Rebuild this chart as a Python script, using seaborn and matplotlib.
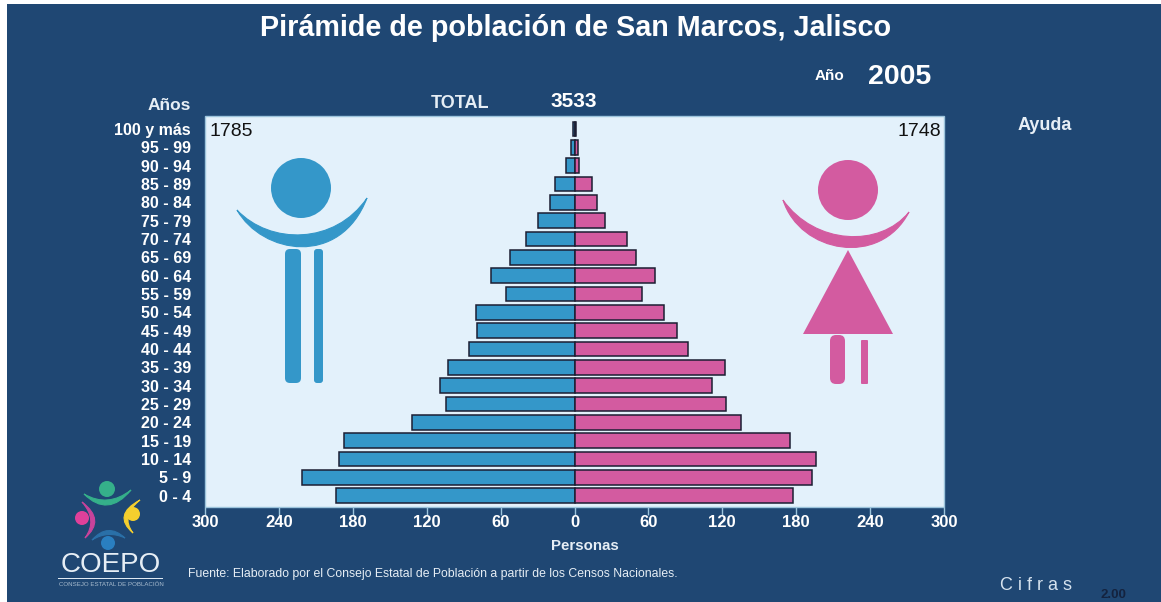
import matplotlib
matplotlib.use('Agg')
import matplotlib.pyplot as plt
import seaborn as sns
import pandas as pd
from matplotlib.patches import Circle, FancyBboxPatch, PathPatch, Polygon, Rectangle
from matplotlib.path import Path
from matplotlib.transforms import Affine2D

W, H = 1161, 602
NAVY = '#1f4773'
PANEL = '#e3f1fb'
BLUE = '#3497c9'
PINK = '#d35ba0'
EDGE = '#1c1e33'

# Data (persons per age group)
age_groups = ['100 y más', '95 - 99', '90 - 94', '85 - 89', '80 - 84', '75 - 79', '70 - 74',
              '65 - 69', '60 - 64', '55 - 59', '50 - 54', '45 - 49', '40 - 44', '35 - 39',
              '30 - 34', '25 - 29', '20 - 24', '15 - 19', '10 - 14', '5 - 9', '0 - 4']
hombres = [1, 3, 7, 16, 20, 30, 39, 52, 68, 56, 80, 79, 86, 103, 109, 104, 132, 187, 191, 221, 194]
mujeres = [1, 3, 4, 14, 18, 25, 43, 50, 65, 55, 73, 83, 92, 122, 112, 123, 135, 175, 196, 193, 177]
x_ticks = [-300, -240, -180, -120, -60, 0, 60, 120, 180, 240, 300]
x_labels = ['300', '240', '180', '120', '60', '0', '60', '120', '180', '240', '300']

sns.set_theme(style='white')
plt.rcParams['font.family'] = ['Liberation Sans', 'DejaVu Sans']

df = pd.DataFrame({'edad': age_groups, 'h': [-v for v in hombres], 'm': mujeres})

fig = plt.figure(figsize=(W / 100, H / 100), dpi=100, facecolor='white')
# everything decorative is placed in image pixels, y going down
px = Affine2D().scale(1 / W, -1 / H).translate(0, 1) + fig.transFigure


def add(p, zorder=1):
    p.set_transform(px)
    p.set_clip_on(False)
    fig.add_artist(p)
    p.set_zorder(zorder)


def txt(x, y, s, size, color='white', weight='bold', ha='center', **kw):
    fig.text(x / W, 1 - (y + 1.5) / H, s, fontsize=size, color=color, fontweight=weight,
             ha=ha, va='center', zorder=5, **kw)


def crescent(a, b, outer, inner, color, zorder=3):
    # closed shape between two curves from tip a to tip b, cubic when two controls are given
    if isinstance(outer[0], tuple):
        verts = [a, outer[0], outer[1], b, inner[0], inner[1], a, a]
        codes = [Path.MOVETO] + [Path.CURVE4] * 6 + [Path.CLOSEPOLY]
    else:
        verts = [a, outer, b, inner, a, a]
        codes = [Path.MOVETO, Path.CURVE3, Path.CURVE3, Path.CURVE3, Path.CURVE3, Path.CLOSEPOLY]
    add(PathPatch(Path(verts, codes), facecolor=color, edgecolor=color, lw=0.8), zorder)


def leg(x0, x1, y0, y1, color, rad=3):
    add(FancyBboxPatch((x0 + rad, y0 + rad), x1 - x0 - 2 * rad, y1 - y0 - 2 * rad,
                       boxstyle=f'round,pad={rad},rounding_size={rad}',
                       facecolor=color, edgecolor='none', mutation_scale=1), 1.5)


add(Rectangle((7, 4), W - 7, H - 4, facecolor=NAVY, edgecolor='none'), 0)

ax = fig.add_axes([205 / W, 1 - 507 / H, (944 - 205) / W, (507 - 116) / H], zorder=2)
ax.set_facecolor('none')
add(Rectangle((205, 116), 739, 391, facecolor=PANEL, edgecolor='#9cc4dc', lw=1), 1)

sns.barplot(data=df, x='h', y='edad', order=age_groups, orient='h', color=BLUE, saturation=1,
            width=0.8, edgecolor=EDGE, linewidth=1.1, ax=ax)
sns.barplot(data=df, x='m', y='edad', order=age_groups, orient='h', color=PINK, saturation=1,
            width=0.8, edgecolor=EDGE, linewidth=1.1, ax=ax)

ax.set_xlim(-300, 300)
ax.set_ylim(20.62, -0.71)
ax.set_xticks(x_ticks)
ax.set_xticklabels(x_labels, fontsize=12, fontweight='bold', color='white')
ax.set_yticks(range(len(age_groups)))
ax.set_yticklabels(age_groups, fontsize=11.5, fontweight='bold', color='white')
ax.set_xlabel('')
ax.set_ylabel('')
ax.tick_params(axis='x', length=6, width=1, color='#9cc4dc', pad=0, bottom=True)
ax.tick_params(axis='y', length=0, pad=10, left=False)
for s in ax.spines.values():
    s.set_visible(False)

# man
add(Circle((301, 188), 30, facecolor=BLUE, edgecolor='none'), 1.5)
crescent((237, 210), (367, 198), ((262, 254), (340, 268)), ((335, 245), (270, 245)), BLUE, 1.5)
leg(285, 301, 249, 383, BLUE, 5)
leg(314, 323, 249, 383, BLUE, 3)

# woman
add(Circle((848, 190), 30, facecolor=PINK, edgecolor='none'), 1.5)
crescent((783, 200), (909, 212), ((800, 253), (880, 268)), ((880, 248), (815, 245)), PINK, 1.5)
add(Polygon([(848, 250), (803, 334), (893, 334)], facecolor=PINK, edgecolor='none'), 1.5)
leg(830, 845, 335, 384, PINK, 6)
leg(861, 868, 340, 384, PINK, 1)

# logo
add(Circle((107, 489), 8, facecolor='#35b08a', edgecolor='none'))
crescent((84, 494), (131, 490), (108, 518), (108, 508), '#35b08a')
add(Circle((82, 518), 7, facecolor='#e0409a', edgecolor='none'))
crescent((82, 502), (85, 538), (106, 520), (98, 520), '#c8439b')
add(Circle((133, 514), 7, facecolor='#f5cf2e', edgecolor='none'))
crescent((140, 500), (133, 533), (112, 515), (120, 516), '#f5cf2e')
add(Circle((108, 543), 7, facecolor='#2a7fc0', edgecolor='none'))
crescent((92, 540), (125, 538), (108, 522), (108, 530), '#2a70a8')
add(Rectangle((58, 577.5), 105, 1.5, facecolor='#dfe9f2', edgecolor='none'))
txt(111, 564, 'COEPO', 20, color='#e6eef5', weight='normal')
txt(111, 583, 'CONSEJO ESTATAL DE POBLACIÓN', 4.4, color='#a8bccf', weight='normal')

# texts
txt(576, 27, 'Pirámide de población de San Marcos, Jalisco', 20.7)
txt(830, 75, 'Año', 11)
txt(900, 75, '2005', 20.5)
txt(169.5, 104, 'Años', 12.5, color='#e6eef5')
txt(460, 102, 'TOTAL', 13, color='#e6eef5')
txt(574, 100, '3533', 15)
txt(1045, 124, 'Ayuda', 13, color='#e6eef5')
txt(231, 130, '1785', 14, color='#111111', weight='normal')
txt(919.5, 130, '1748', 14, color='#111111', weight='normal')
txt(585, 545, 'Personas', 10.8, color='#e6eef5')
txt(188, 572, 'Fuente: Elaborado por el Consejo Estatal de Población a partir de los Censos Nacionales.',
    8.8, color='#e6eef5', weight='normal', ha='left')
txt(1036, 584, 'C i f r a s', 13, color='#d5e2ee', weight='normal')
txt(1113, 593, '2.00', 9.5, color='#14233f')

fig.savefig('out.png', dpi=100, facecolor='white')
